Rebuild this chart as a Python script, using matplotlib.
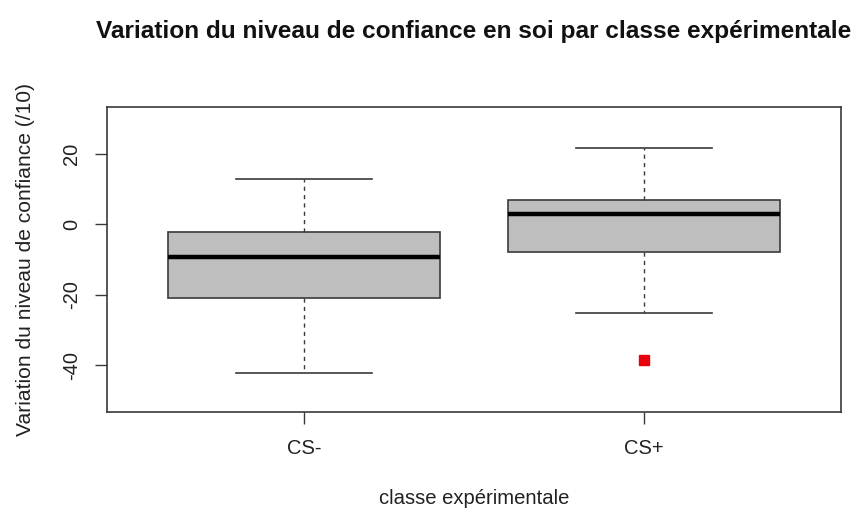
import matplotlib
matplotlib.use("Agg")
import matplotlib.pyplot as plt

plt.rcParams["font.family"] = ["Liberation Sans", "DejaVu Sans"]

# Summary statistics per experimental class
classes = ["CS-", "CS+"]
whisker_low = [-42.2, -25.2]
q1 = [-21.0, -8.0]
median = [-9.3, 2.9]
q3 = [-2.2, 6.9]
whisker_high = [12.9, 21.7]
outliers = [[], [-38.5]]

y_ticks = [-40, -20, 0, 20]

stats = []
for i, name in enumerate(classes):
    stats.append(dict(label=name, whislo=whisker_low[i], q1=q1[i], med=median[i],
                      q3=q3[i], whishi=whisker_high[i], fliers=outliers[i]))

fig = plt.figure(figsize=(8.56, 5.09), dpi=100)
ax = fig.add_axes([107 / 856, 1 - 412 / 509, 734 / 856, 305 / 509])

ax.bxp(stats, positions=[1, 2], widths=0.8, patch_artist=True, showfliers=True,
       boxprops=dict(facecolor="#bebebe", edgecolor="#3a3a3a", linewidth=1.2),
       medianprops=dict(color="black", linewidth=3.2, solid_capstyle="butt"),
       whiskerprops=dict(color="#3a3a3a", linewidth=1, linestyle=(0, (3, 3))),
       capprops=dict(color="#3a3a3a", linewidth=1.2),
       capwidths=0.4,
       flierprops=dict(marker="s", markerfacecolor="#e8000b", markeredgecolor="#e8000b",
                       markersize=7, linestyle="none"))

ax.set_xlim(0.42, 2.58)
ax.set_ylim(-53.2, 33.2)
ax.set_yticks(y_ticks)
ax.set_yticklabels([str(v) for v in y_ticks], rotation=90, va="center")
ax.set_xticks([1, 2])
ax.set_xticklabels(classes)

for s in ax.spines.values():
    s.set_color("#3a3a3a")
    s.set_linewidth(1.2)

ax.tick_params(axis="both", length=8.5, width=1, color="#3a3a3a", labelsize=14.5,
               labelcolor="#222222")
ax.tick_params(axis="y", pad=10)
ax.tick_params(axis="x", pad=11)

ax.set_xlabel("classe expérimentale", fontsize=14.6, color="#222222")
ax.xaxis.set_label_coords(0.5, -0.282)
ax.xaxis.label.set_va("center")
ax.set_ylabel("Variation du niveau de confiance (/10)", fontsize=15.1, color="#222222")
ax.yaxis.set_label_coords(-0.1117, 0.5)
ax.yaxis.label.set_va("center")

ax.set_title("Variation du niveau de confiance en soi par classe expérimentale",
             fontsize=17.6, fontweight="bold", color="#111111", y=1.249, va="center", pad=0)

fig.savefig("out.png", dpi=100)
